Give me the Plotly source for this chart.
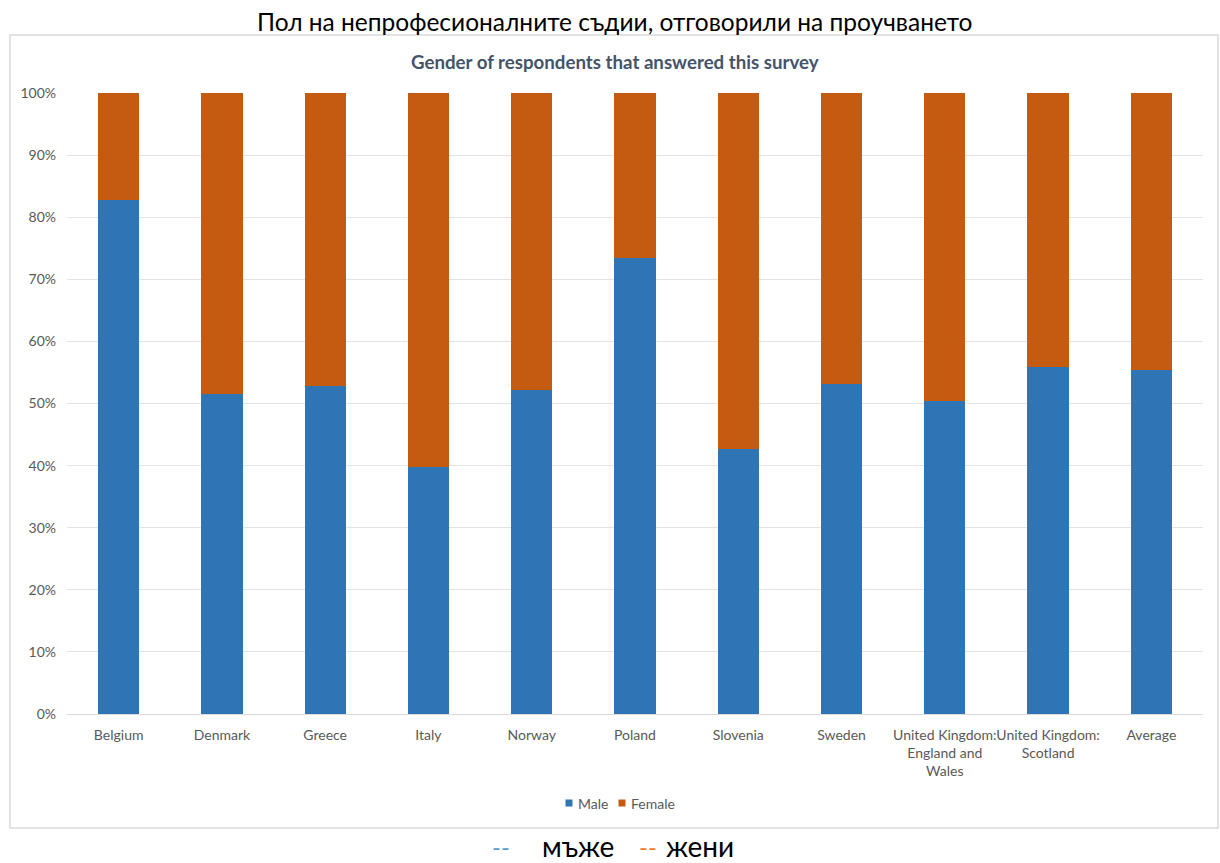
import plotly.graph_objects as go

categories = ["Belgium", "Denmark", "Greece", "Italy", "Norway", "Poland",
              "Slovenia", "Sweden", "United Kingdom: England and Wales",
              "United Kingdom: Scotland", "Average"]
tick_labels = ["Belgium", "Denmark", "Greece", "Italy", "Norway", "Poland",
               "Slovenia", "Sweden", "United Kingdom:<br>England and<br>Wales",
               "United Kingdom:<br>Scotland", "Average"]
male = [0.828, 0.515, 0.528, 0.397, 0.522, 0.734, 0.427, 0.531, 0.504, 0.559, 0.554]
female = [round(1 - m, 3) for m in male]
y_ticks = [i / 10 for i in range(11)]
series_names = ["Male", "Female"]
series_colors = ["#2E75B6", "#C55A11"]

W, H = 1220, 863
FONT = "Lato, 'Noto Sans', sans-serif"

fig = go.Figure()
for name, vals, col in zip(series_names, [male, female], series_colors):
    fig.add_bar(x=categories, y=vals, name=name, marker_color=col,
                marker_line_width=0, showlegend=False)

fig.update_layout(
    width=W, height=H, autosize=False, barmode="stack", bargap=0.6,
    margin=dict(l=0, r=0, t=0, b=0, pad=0),
    paper_bgcolor="white", plot_bgcolor="white",
    font=dict(family=FONT, size=14, color="#595959"),
    xaxis=dict(domain=[67 / W, 1203 / W], tickmode="array", tickvals=categories,
               ticktext=tick_labels, showgrid=False, showline=True,
               linecolor="#D9D9D9", linewidth=1, ticks="", automargin=False,
               tickangle=0, ticklabelstandoff=8, tickfont=dict(size=14)),
    yaxis=dict(domain=[1 - 714 / H, 1 - 93 / H], range=[0, 1], tickmode="array",
               tickvals=y_ticks, tickformat=".0%", showgrid=True,
               gridcolor="#E3E3E3", gridwidth=1, zeroline=False, ticks="",
               ticklabelstandoff=10, automargin=False, tickfont=dict(size=14)),
)

# outer chart border
fig.add_shape(type="rect", xref="paper", yref="paper",
              x0=10 / W, x1=1218 / W, y0=1 - 828 / H, y1=1 - 35 / H,
              line=dict(color="#D9D9D9", width=1.5), fillcolor="rgba(0,0,0,0)",
              layer="below")

# outer title
fig.add_annotation(text="Пол на непрофесионалните съдии, отговорили на проучването",
                   xref="paper", yref="paper", x=615 / W, y=1 - 21 / H,
                   xanchor="center", yanchor="middle", showarrow=False,
                   font=dict(family=FONT, size=24.5, color="#000000"))
# inner chart title
fig.add_annotation(text="<b>Gender of respondents that answered this survey</b>",
                   xref="paper", yref="paper", x=615 / W, y=1 - 62 / H,
                   xanchor="center", yanchor="middle", showarrow=False,
                   font=dict(family=FONT, size=18.7, color="#44546A"))

# legend (squares + labels)
legend_items = [(series_names[0], series_colors[0], 569, 576),
                (series_names[1], series_colors[1], 622, 629)]
for name, col, sq, tx in legend_items:
    fig.add_shape(type="rect", xref="paper", yref="paper",
                  x0=(sq - 3.5) / W, x1=(sq + 3.5) / W,
                  y0=1 - 806.5 / H, y1=1 - 799.5 / H,
                  line=dict(width=0), fillcolor=col)
    fig.add_annotation(text=name, xref="paper", yref="paper", x=tx / W, y=1 - 803 / H,
                       xanchor="left", yanchor="middle", showarrow=False,
                       font=dict(family=FONT, size=14, color="#595959"))

# bottom legend text
bottom = [("--", 501, "#5B9BD5", 24), ("мъже", 578, "#000000", 28),
          ("--", 648, "#ED7D31", 24), ("жени", 700, "#000000", 28)]
for txt, xc, col, sz in bottom:
    fig.add_annotation(text=txt, xref="paper", yref="paper", x=xc / W, y=1 - 846 / H,
                       xanchor="center", yanchor="middle", showarrow=False,
                       borderpad=0,
                       font=dict(family=FONT, size=sz, color=col))

fig.write_html("out.html",
               config={"displayModeBar": False},
               post_script="document.body.style.margin='0';"
                           "document.body.style.overflow='hidden';"
                           "document.documentElement.style.overflow='hidden';")
